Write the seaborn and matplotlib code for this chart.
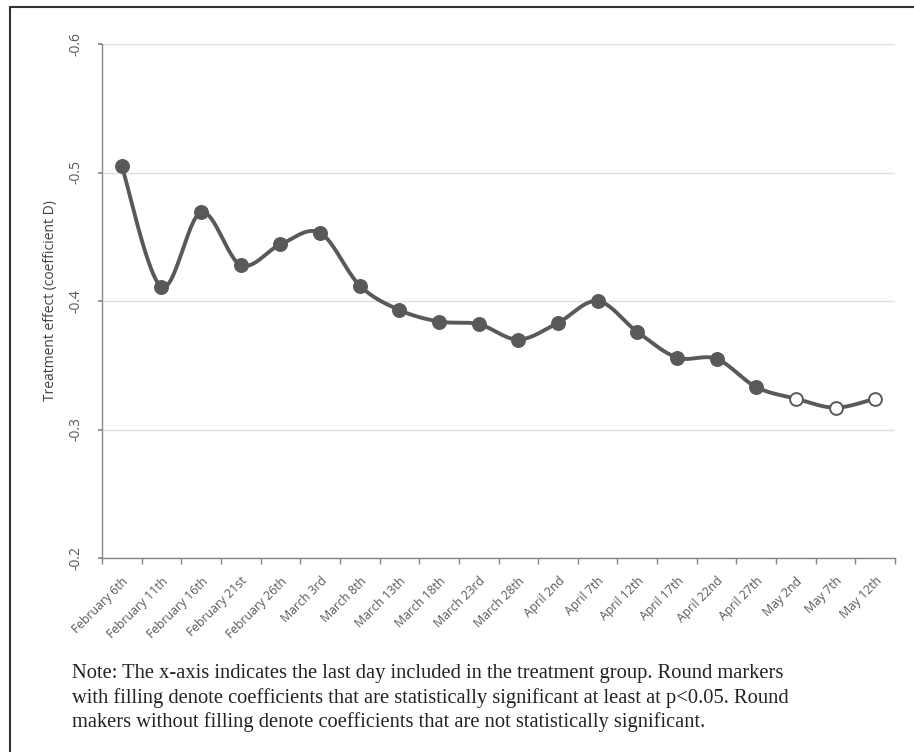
import numpy as np
import pandas as pd
import matplotlib
matplotlib.use("Agg")
import matplotlib.pyplot as plt
from matplotlib.lines import Line2D
import seaborn as sns

dates = ["February 6th", "February 11th", "February 16th", "February 21st", "February 26th",
         "March 3rd", "March 8th", "March 13th", "March 18th", "March 23rd", "March 28th",
         "April 2nd", "April 7th", "April 12th", "April 17th", "April 22nd", "April 27th",
         "May 2nd", "May 7th", "May 12th"]
coef = [-0.505, -0.411, -0.469, -0.428, -0.444, -0.453, -0.412, -0.393, -0.384, -0.382,
        -0.370, -0.383, -0.400, -0.376, -0.356, -0.355, -0.333, -0.324, -0.317, -0.324]
significant = [True] * 17 + [False] * 3
y_ticks = [-0.6, -0.5, -0.4, -0.3, -0.2]
y_label = "Treatment effect (coefficient D)"
note = ("Note: The x-axis indicates the last day included in the treatment group. Round markers\n"
        "with filling denote coefficients that are statistically significant at least at p<0.05. Round\n"
        "makers without filling denote coefficients that are not statistically significant.")

df = pd.DataFrame({"pos": np.arange(len(dates)), "date": dates, "coef": coef,
                   "sig": significant})

# Smooth (Catmull-Rom / Bezier) curve through the data points, as in a spreadsheet "smoothed line"
def smooth(xs, ys, n=30):
    P = np.column_stack([xs, ys]).astype(float)
    Pp = np.vstack([P[0], P, P[-1]])
    out = []
    for i in range(len(P) - 1):
        p0, p1, p2, p3 = Pp[i], Pp[i + 1], Pp[i + 2], Pp[i + 3]
        c1 = p1 + (p2 - p0) / 6.0
        c2 = p2 - (p3 - p1) / 6.0
        t = np.linspace(0, 1, n, endpoint=(i == len(P) - 2))[:, None]
        seg = ((1 - t) ** 3) * p1 + 3 * ((1 - t) ** 2) * t * c1 + 3 * (1 - t) * t ** 2 * c2 + t ** 3 * p2
        out.append(seg)
    out = np.vstack(out)
    return out[:, 0], out[:, 1]

sns.set_theme(style="white")
plt.rcParams["font.family"] = ["Open Sans", "DejaVu Sans"]

fig = plt.figure(figsize=(9.14, 7.52), dpi=100)
ax = fig.add_axes([102 / 914, 1 - 558 / 752, 793 / 914, (558 - 44) / 752])

dark = "#595959"
sx, sy = smooth(df["pos"].values, df["coef"].values)
curve = pd.DataFrame({"x": sx, "y": sy})
sns.lineplot(data=curve, x="x", y="y", ax=ax, color=dark, linewidth=2.8, sort=False,
             estimator=None, zorder=2)
sns.scatterplot(data=df[df["sig"]], x="pos", y="coef", ax=ax, color=dark, s=95,
                edgecolor=dark, linewidth=1.0, zorder=3)
sns.scatterplot(data=df[~df["sig"]], x="pos", y="coef", ax=ax, color="white", s=85,
                edgecolor=dark, linewidth=1.4, zorder=3)

ax.set_xlim(-0.5, len(dates) - 0.5)
ax.set_ylim(-0.2, -0.6)
ax.set_yticks(y_ticks)
ax.set_yticklabels([f"{v:.1f}" for v in y_ticks], rotation=90, va="center",
                   fontsize=10, color=dark)
ax.set_xticks(np.arange(len(dates)))
ax.set_xticklabels(dates, rotation=45, ha="right", rotation_mode="anchor",
                   fontsize=8.8, color=dark)
ax.tick_params(axis="x", length=0, pad=12)
ax.tick_params(axis="y", length=3, color="#868686", left=True, pad=10)
# minor ticks at category boundaries
ax.set_xticks(np.arange(-0.5, len(dates) + 0.5, 1), minor=True)
ax.tick_params(axis="x", which="minor", length=4, color="#868686", bottom=True)

ax.yaxis.grid(True, color="#dcdfe8", linewidth=1.0)
ax.xaxis.grid(False)
for s in ["top", "right"]:
    ax.spines[s].set_visible(False)
for s in ["left", "bottom"]:
    ax.spines[s].set_color("#868686")
    ax.spines[s].set_linewidth(1.0)
ax.set_xlabel("")
ax.set_ylabel(y_label, fontsize=10, color="#404040", labelpad=8)

fig.text(72 / 914, 1 - 664 / 752, note, ha="left", va="top", fontsize=14.8,
         family=["Liberation Serif", "DejaVu Serif"], color="#222222", linespacing=1.32)

# outer frame (left and top edges)
fig.add_artist(Line2D([10 / 914, 10 / 914], [0, 1 - 7 / 752], transform=fig.transFigure,
                      color="#333333", linewidth=1.5))
fig.add_artist(Line2D([10 / 914, 1], [1 - 7 / 752, 1 - 7 / 752], transform=fig.transFigure,
                      color="#333333", linewidth=1.5))

fig.savefig("out.png", dpi=100, facecolor="white")
